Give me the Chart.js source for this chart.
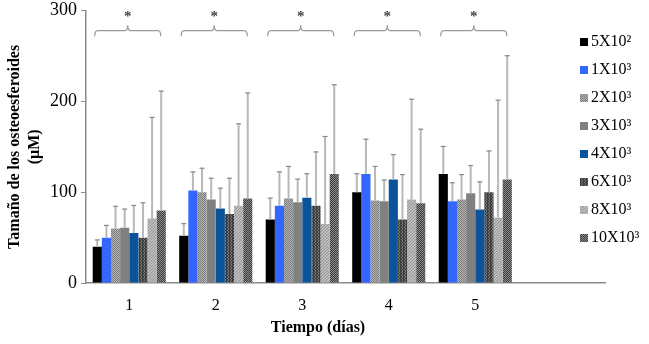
<!DOCTYPE html>
<html lang="es">
<head>
  <meta charset="UTF-8">
  <title>Tamaño de los osteoesferoides</title>
  <script src="https://cdn.jsdelivr.net/npm/chart.js"></script>
  <style>
    html, body {
      margin: 0;
      padding: 0;
      background: #fff;
    }
    #wrap {
      position: relative;
      width: 649px;
      height: 344px;
    }
  </style>
</head>
<body>
  <div id="wrap">
    <canvas id="chart" width="649" height="344"></canvas>
  </div>

  <script>
    // days (the last slot is left empty on purpose)
    const days = ['1', '2', '3', '4', '5', ''];

    // mean size per seeding density, one value per day
    const d5x2  = [40, 52, 70, 100, 120];
    const d1x3  = [50, 102, 85, 120, 90];
    const d2x3  = [60, 100, 93, 91, 92];
    const d3x3  = [61, 92, 89, 90, 99];
    const d4x3  = [55, 82, 94, 114, 81];
    const d6x3  = [50, 76, 85, 70, 100];
    const d8x3  = [71, 85, 65, 92, 72];
    const d10x3 = [80, 93, 120, 88, 114];

    // standard deviations (upper error bars)
    const sd5x2  = [8, 14, 24, 21, 31];
    const sd1x3  = [14, 21, 38, 39, 21];
    const sd2x3  = [25, 27, 36, 38, 28];
    const sd3x3  = [21, 24, 26, 24, 31];
    const sd4x3  = [31, 23, 27, 28, 31];
    const sd6x3  = [39, 40, 60, 50, 46];
    const sd8x3  = [112, 91, 97, 111, 130];
    const sd10x3 = [132, 117, 99, 82, 137];

    const seriesNames = ['5X10²', '1X10³', '2X10³', '3X10³', '4X10³', '6X10³', '8X10³', '10X10³'];

    // days marked as significant
    const signif = ['1', '2', '3', '4', '5'];

    const yTicks = [0, 100, 200, 300];

    const SERIF = '"Liberation Serif", "Times New Roman", serif';

    // small tiled fills for the textured bars
    function pattern(bg, fg, size, dots) {
      const c = document.createElement('canvas');
      c.width = size;
      c.height = size;
      const g = c.getContext('2d');
      g.fillStyle = bg;
      g.fillRect(0, 0, size, size);
      g.fillStyle = fg;
      dots.forEach(d => g.fillRect(d[0], d[1], 1, 1));
      return g.createPattern(c, 'repeat');
    }

    const ctx = document.getElementById('chart').getContext('2d');

    const fills = [
      '#000000',
      '#3366ff',
      pattern('#b4b4b4', '#7c7c7c', 2, [[0, 0], [1, 1]]),
      '#808080',
      '#0b549c',
      pattern('#3c3c3c', '#7a7a7a', 3, [[0, 0], [0, 1], [2, 2]]),
      pattern('#bdbdbd', '#959595', 3, [[0, 0], [2, 1], [1, 2]]),
      pattern('#3a3a3a', '#8e8e8e', 2, [[0, 0], [1, 1]])
    ];

    const means = [d5x2, d1x3, d2x3, d3x3, d4x3, d6x3, d8x3, d10x3];
    const sds = [sd5x2, sd1x3, sd2x3, sd3x3, sd4x3, sd6x3, sd8x3, sd10x3];

    const datasets = means.map((m, i) => ({
      label: seriesNames[i],
      data: m,
      sd: sds[i],
      backgroundColor: fills[i],
      borderWidth: 0,
      categoryPercentage: 0.845,
      barPercentage: 1.0
    }));

    // upward error bars with a small cap
    const errorBars = {
      id: 'errorBars',
      afterDatasetsDraw(chart) {
        const c = chart.ctx;
        const y = chart.scales.y;
        c.save();
        chart.data.datasets.forEach((ds, di) => {
          const meta = chart.getDatasetMeta(di);
          meta.data.forEach((bar, i) => {
            if (ds.data[i] == null) return;
            const top = y.getPixelForValue(ds.data[i] + ds.sd[i]);
            c.strokeStyle = '#b8b8b8';
            c.lineWidth = 2;
            c.beginPath();
            c.moveTo(bar.x, bar.y);
            c.lineTo(bar.x, top);
            c.stroke();
            c.strokeStyle = '#8a8a8a';
            c.lineWidth = 1.2;
            c.beginPath();
            c.moveTo(bar.x - 2.5, top + 0.5);
            c.lineTo(bar.x + 2.5, top + 0.5);
            c.stroke();
          });
        });
        c.restore();
      }
    };

    // curly brackets with an asterisk over each day
    const brackets = {
      id: 'brackets',
      afterDraw(chart) {
        const c = chart.ctx;
        const y = chart.scales.y;
        const first = chart.getDatasetMeta(0);
        const last = chart.getDatasetMeta(chart.data.datasets.length - 1);
        const yLow = y.getPixelForValue(272);
        const yMid = y.getPixelForValue(278);
        const yPeak = y.getPixelForValue(284);
        const yStar = y.getPixelForValue(295);
        c.save();
        signif.forEach(day => {
          const i = days.indexOf(day);
          const b0 = first.data[i];
          const b1 = last.data[i];
          const x0 = b0.x - b0.width / 2 + 2;
          const x1 = b1.x + b1.width / 2 - 5;
          const xc = (x0 + x1) / 2;
          c.strokeStyle = '#9a9a9a';
          c.lineWidth = 1.2;
          c.beginPath();
          c.moveTo(x0, yLow);
          c.quadraticCurveTo(x0, yMid, x0 + 3, yMid);
          c.lineTo(xc - 3, yMid);
          c.quadraticCurveTo(xc, yMid, xc, yPeak);
          c.quadraticCurveTo(xc, yMid, xc + 3, yMid);
          c.lineTo(x1 - 3, yMid);
          c.quadraticCurveTo(x1, yMid, x1, yLow);
          c.stroke();
          c.fillStyle = '#444';
          c.font = 'bold 15px ' + SERIF;
          c.textAlign = 'center';
          c.textBaseline = 'middle';
          c.fillText('*', xc, yStar + 2);
        });
        c.restore();
      }
    };

    // legend column on the right and the x-axis title
    const sideLegend = {
      id: 'sideLegend',
      afterDraw(chart) {
        const c = chart.ctx;
        c.save();
        c.font = '16px ' + SERIF;
        c.textBaseline = 'middle';
        c.textAlign = 'left';
        chart.data.datasets.forEach((ds, i) => {
          const yy = 42 + i * 28;
          c.fillStyle = ds.backgroundColor;
          c.fillRect(580, yy - 4, 8, 8);
          c.fillStyle = '#000';
          c.fillText(ds.label, 591, yy);
        });
        c.font = 'bold 16px ' + SERIF;
        c.textAlign = 'center';
        c.fillText('Tiempo (días)', 318, 328);
        c.restore();
      }
    };

    new Chart(ctx, {
      type: 'bar',
      data: { labels: days, datasets: datasets },
      plugins: [errorBars, brackets, sideLegend],
      options: {
        responsive: false,
        animation: false,
        layout: { padding: { top: 0, right: 44, left: 0, bottom: 0 } },
        plugins: {
          legend: { display: false },
          tooltip: { enabled: false }
        },
        scales: {
          x: {
            grid: { display: false, drawTicks: false },
            border: { color: '#8c8c8c', width: 1.5 },
            ticks: {
              color: '#000',
              padding: 13,
              font: { family: SERIF, size: 16 }
            },
            afterFit(scale) { scale.height = 61; }
          },
          y: {
            min: 0,
            max: 300,
            afterBuildTicks(scale) {
              scale.ticks = yTicks.map(v => ({ value: v }));
            },
            grid: { drawOnChartArea: false, tickLength: 5, color: '#8c8c8c' },
            border: { color: '#8c8c8c', width: 1.5 },
            ticks: {
              color: '#000',
              padding: 4,
              font: { family: SERIF, size: 18, lineHeight: 0.75 }
            },
            title: {
              display: true,
              text: ['Tamaño de los osteoesferoides', '(µM)'],
              color: '#000',
              padding: { top: 5, bottom: 0 },
              font: { family: SERIF, size: 16, weight: 'bold', lineHeight: 1.25 }
            },
            afterFit(scale) { scale.width = 86; }
          }
        }
      }
    });
  </script>
</body>
</html>
